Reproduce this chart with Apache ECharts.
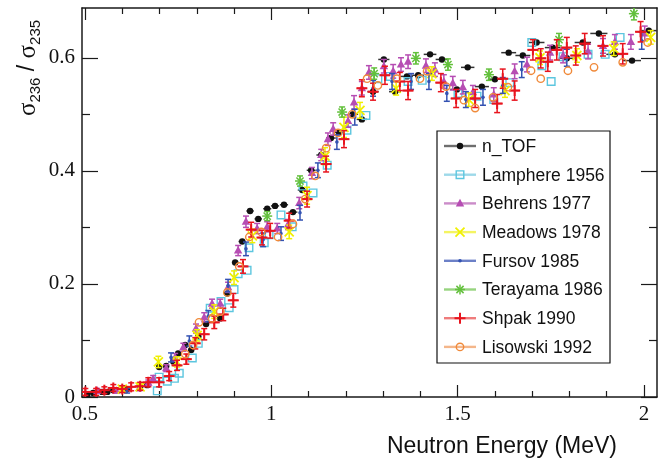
<!DOCTYPE html>
<html>
<head>
<meta charset="utf-8">
<script src="https://cdn.jsdelivr.net/npm/echarts@6/dist/echarts.min.js"></script>
<style>
  html, body { margin: 0; padding: 0; background: #fff; }
  #chart { width: 668px; height: 461px; }
</style>
</head>
<body>
<div id="chart"></div>
<script>
// ---- U-236 / U-235 fission cross-section ratio data ----
// n_TOF
const ntofE = [0.506,0.522,0.546,0.560,0.576,0.613,0.648,0.667,0.699,0.718,0.737,0.750,0.769,0.785,0.804,0.825,0.863,0.882,0.903,0.922,0.943,0.965,0.989,1.010,1.034,1.058,1.083,1.107,1.134,1.160,1.182,1.219,1.243,1.273,1.302,1.332,1.364,1.394,1.426,1.458,1.498,1.527,1.565,1.600,1.637,1.675,1.712,1.755,1.793,1.836,1.879,1.922,1.968,2.013];
const ntofR = [0.004,0.007,0.009,0.009,0.012,0.014,0.018,0.021,0.053,0.055,0.063,0.077,0.092,0.083,0.107,0.129,0.139,0.183,0.238,0.275,0.329,0.315,0.333,0.338,0.340,0.327,0.366,0.401,0.428,0.458,0.468,0.500,0.491,0.540,0.597,0.540,0.567,0.569,0.606,0.597,0.544,0.583,0.549,0.562,0.609,0.604,0.627,0.618,0.599,0.627,0.643,0.606,0.595,0.648];
const ntofDE = [0.004,0.004,0.005,0.005,0.005,0.006,0.006,0.006,0.007,0.007,0.007,0.007,0.008,0.008,0.008,0.008,0.009,0.009,0.009,0.010,0.010,0.010,0.011,0.011,0.011,0.012,0.012,0.012,0.013,0.013,0.013,0.014,0.014,0.015,0.015,0.016,0.016,0.016,0.017,0.017,0.018,0.018,0.019,0.019,0.020,0.020,0.021,0.021,0.022,0.022,0.023,0.023,0.024,0.024];
// Lamphere 1956
const lampE = [0.694,0.699,0.721,0.740,0.753,0.788,0.804,0.836,0.865,0.887,0.900,0.911,0.935,0.940,0.981,0.994,1.026,1.056,1.085,1.112,1.150,1.203,1.254,1.286,1.319,1.367,1.405,1.501,1.552,1.597,1.640,1.699,1.726,1.751,1.783,1.850,1.896,1.936];
const lampR = [0.011,0.035,0.028,0.033,0.042,0.069,0.095,0.157,0.169,0.158,0.190,0.218,0.224,0.264,0.273,0.287,0.322,0.301,0.373,0.361,0.410,0.472,0.498,0.563,0.567,0.558,0.560,0.537,0.532,0.526,0.556,0.627,0.586,0.558,0.602,0.606,0.606,0.636];
// Behrens 1977
const behE = [0.533,0.584,0.646,0.670,0.683,0.718,0.742,0.764,0.798,0.820,0.841,0.863,0.884,0.911,0.932,0.962,0.989,1.016,1.045,1.075,1.109,1.134,1.152,1.166,1.206,1.222,1.243,1.262,1.302,1.327,1.348,1.367,1.415,1.439,1.463,1.487,1.514,1.541,1.597,1.653,1.686,1.748,1.783,1.850,1.890,1.922,1.965,2.002];
const behR = [0.011,0.011,0.016,0.025,0.032,0.051,0.070,0.088,0.121,0.141,0.165,0.165,0.194,0.259,0.310,0.298,0.301,0.298,0.305,0.343,0.396,0.428,0.456,0.474,0.488,0.521,0.546,0.574,0.585,0.576,0.588,0.593,0.586,0.579,0.558,0.555,0.548,0.539,0.535,0.576,0.588,0.609,0.604,0.611,0.621,0.628,0.628,0.643];
const behDR = [0.004,0.004,0.005,0.005,0.006,0.006,0.007,0.007,0.008,0.008,0.008,0.008,0.009,0.009,0.010,0.009,0.009,0.009,0.009,0.010,0.010,0.010,0.011,0.011,0.011,0.012,0.012,0.012,0.012,0.012,0.012,0.012,0.012,0.012,0.012,0.012,0.012,0.012,0.012,0.013,0.013,0.013,0.013,0.013,0.013,0.013,0.013,0.013];
// Meadows 1978
const meadE = [0.600,0.648,0.697,0.747,0.801,0.847,0.900,0.949,1.048,1.096,1.144,1.195,1.238,1.335,1.431,1.530,1.627,1.721,1.820,1.919,2.018];
const meadR = [0.014,0.018,0.062,0.062,0.109,0.151,0.211,0.285,0.292,0.356,0.426,0.477,0.507,0.546,0.572,0.526,0.542,0.600,0.604,0.616,0.636];
const meadDR = [0.004,0.005,0.010,0.009,0.010,0.012,0.012,0.012,0.012,0.015,0.015,0.018,0.014,0.012,0.012,0.012,0.012,0.012,0.012,0.012,0.012];
// Fursov 1985
const furE = [0.613,0.731,0.780,0.831,0.884,0.932,0.978,1.026,1.077,1.125,1.176,1.224,1.273,1.324,1.375,1.423,1.471,1.522,1.568,1.621,1.672,1.793,1.994];
const furR = [0.011,0.070,0.099,0.143,0.197,0.262,0.278,0.289,0.326,0.401,0.451,0.495,0.546,0.558,0.558,0.558,0.537,0.526,0.530,0.551,0.579,0.600,0.630];
const furDR = [0.004,0.008,0.009,0.010,0.011,0.012,0.012,0.012,0.013,0.013,0.013,0.014,0.014,0.014,0.014,0.014,0.014,0.014,0.014,0.014,0.014,0.015,0.015];
// Terayama 1986
const terE = [0.989,1.077,1.190,1.276,1.388,1.474,1.584,1.772,1.973];
const terR = [0.320,0.382,0.504,0.572,0.599,0.588,0.570,0.632,0.678];
const terDR = [0.008,0.009,0.009,0.010,0.010,0.010,0.010,0.011,0.011];
// Shpak 1990
const shpE = [0.501,0.530,0.552,0.576,0.600,0.624,0.648,0.670,0.699,0.726,0.747,0.772,0.796,0.820,0.847,0.871,0.898,0.924,0.946,0.975,0.997,1.048,1.096,1.147,1.195,1.243,1.273,1.305,1.345,1.367,1.455,1.496,1.547,1.606,1.621,1.653,1.702,1.723,1.742,1.766,1.793,1.817,1.841,1.890,1.943,1.991];
const shpR = [0.009,0.009,0.012,0.016,0.014,0.018,0.019,0.026,0.026,0.037,0.056,0.067,0.095,0.111,0.132,0.146,0.171,0.231,0.296,0.282,0.294,0.312,0.350,0.412,0.456,0.546,0.540,0.569,0.558,0.542,0.556,0.528,0.528,0.519,0.563,0.542,0.614,0.599,0.593,0.614,0.618,0.604,0.625,0.621,0.607,0.646];
const shpDE = [0.008,0.008,0.008,0.008,0.009,0.009,0.009,0.009,0.010,0.010,0.010,0.010,0.011,0.011,0.011,0.011,0.012,0.012,0.012,0.012,0.012,0.012,0.012,0.013,0.013,0.013,0.013,0.013,0.013,0.013,0.014,0.014,0.014,0.014,0.014,0.014,0.014,0.014,0.014,0.014,0.014,0.014,0.014,0.014,0.014,0.014];
const shpDR = [0.006,0.006,0.006,0.006,0.006,0.007,0.007,0.008,0.008,0.008,0.009,0.009,0.010,0.010,0.011,0.011,0.012,0.012,0.013,0.013,0.013,0.013,0.014,0.014,0.015,0.015,0.015,0.016,0.016,0.016,0.016,0.016,0.016,0.016,0.017,0.017,0.018,0.017,0.017,0.018,0.018,0.017,0.018,0.018,0.018,0.018];
// Lisowski 1992
const lisE = [0.769,0.790,0.806,0.841,0.863,0.882,0.914,0.941,0.973,1.018,1.058,1.091,1.118,1.147,1.179,1.217,1.257,1.286,1.337,1.399,1.418,1.469,1.517,1.547,1.595,1.635,1.697,1.723,1.796,1.866,1.943,2.010];
const lisR = [0.076,0.092,0.132,0.139,0.151,0.185,0.231,0.283,0.292,0.283,0.306,0.350,0.391,0.440,0.467,0.500,0.563,0.551,0.563,0.563,0.576,0.549,0.525,0.511,0.530,0.548,0.577,0.563,0.577,0.583,0.592,0.627];

// Axis ranges and tick positions
const X_MIN = 0.492, X_MAX = 2.035;
const Y_MIN = 0, Y_MAX = 0.688;
const xMajor = [0.5, 1, 1.5, 2];
const xMinor = [0.6, 0.7, 0.8, 0.9, 1.1, 1.2, 1.3, 1.4, 1.6, 1.7, 1.8, 1.9];
const yMajor = [0, 0.2, 0.4, 0.6];
const yMinor = [0.1, 0.3, 0.5];

const SETS = [
  { name: 'n_TOF',         e: ntofE, r: ntofR, de: ntofDE, dr: null,   color: '#111111', legendLine: '#6e6e6e', mark: 'dot' },
  { name: 'Lamphere 1956', e: lampE, r: lampR, de: null,   dr: null,   color: '#5cc6df', legendLine: '#9dd9e9', mark: 'square' },
  { name: 'Behrens 1977',  e: behE,  r: behR,  de: null,   dr: behDR,  color: '#b64db3', legendLine: '#cb8cc9', mark: 'triangle' },
  { name: 'Meadows 1978',  e: meadE, r: meadR, de: null,   dr: meadDR, color: '#f0f000', legendLine: '#f4f462', mark: 'cross' },
  { name: 'Fursov 1985',   e: furE,  r: furR,  de: null,   dr: furDR,  color: '#3352b2', legendLine: '#6c80c7', mark: 'small' },
  { name: 'Terayama 1986', e: terE,  r: terR,  de: null,   dr: terDR,  color: '#63c03c', legendLine: '#97d47f', mark: 'star' },
  { name: 'Shpak 1990',    e: shpE,  r: shpR,  de: shpDE,  dr: shpDR,  color: '#e8141e', legendLine: '#ef7c7c', mark: 'plus' },
  { name: 'Lisowski 1992', e: lisE,  r: lisR,  de: null,   dr: null,   color: '#f08a3a', legendLine: '#f4b68a', mark: 'ring' }
];

// Marker glyphs, shared by the plot and the legend
function markerShapes(kind, cx, cy, color) {
  const ln = (x1, y1, x2, y2, w) => ({ type: 'line', shape: { x1, y1, x2, y2 }, style: { stroke: color, lineWidth: w } });
  switch (kind) {
    case 'dot':
      return [{ type: 'circle', shape: { cx, cy, r: 3.2 }, style: { fill: color } }];
    case 'square':
      return [{ type: 'rect', shape: { x: cx - 3.8, y: cy - 3.8, width: 7.6, height: 7.6 }, style: { fill: 'none', stroke: color, lineWidth: 1.4 } }];
    case 'triangle':
      return [{ type: 'polygon', shape: { points: [[cx, cy - 4.6], [cx + 4.2, cy + 3], [cx - 4.2, cy + 3]] }, style: { fill: color } }];
    case 'cross':
      return [ln(cx - 4.5, cy - 4.5, cx + 4.5, cy + 4.5, 1.8), ln(cx - 4.5, cy + 4.5, cx + 4.5, cy - 4.5, 1.8)];
    case 'small':
      return [{ type: 'circle', shape: { cx, cy, r: 1.8 }, style: { fill: color } }];
    case 'star':
      return [ln(cx - 5, cy, cx + 5, cy, 1.5), ln(cx, cy - 5, cx, cy + 5, 1.5),
              ln(cx - 3.6, cy - 3.6, cx + 3.6, cy + 3.6, 1.5), ln(cx - 3.6, cy + 3.6, cx + 3.6, cy - 3.6, 1.5)];
    case 'plus':
      return [ln(cx - 5.5, cy, cx + 5.5, cy, 2), ln(cx, cy - 5.5, cx, cy + 5.5, 2)];
    case 'ring':
      return [{ type: 'circle', shape: { cx, cy, r: 3.7 }, style: { fill: 'none', stroke: color, lineWidth: 1.4 } }];
  }
  return [];
}

function makeRenderItem(set) {
  return function (params, api) {
    const x = api.value(0), y = api.value(1), dx = api.value(2), dy = api.value(3);
    const p = api.coord([x, y]);
    const kids = [];
    const barColor = set.mark === 'dot' ? '#333333' : set.color;
    if (dy > 0) {
      const t = api.coord([x, y + dy]), b = api.coord([x, y - dy]);
      kids.push({ type: 'line', shape: { x1: p[0], y1: t[1], x2: p[0], y2: b[1] }, style: { stroke: barColor, lineWidth: 1.5 } });
      kids.push({ type: 'line', shape: { x1: p[0] - 3, y1: t[1], x2: p[0] + 3, y2: t[1] }, style: { stroke: barColor, lineWidth: 1.5 } });
      kids.push({ type: 'line', shape: { x1: p[0] - 3, y1: b[1], x2: p[0] + 3, y2: b[1] }, style: { stroke: barColor, lineWidth: 1.5 } });
    }
    if (dx > 0) {
      const l = api.coord([x - dx, y]), r = api.coord([x + dx, y]);
      kids.push({ type: 'line', shape: { x1: l[0], y1: p[1], x2: r[0], y2: p[1] }, style: { stroke: barColor, lineWidth: 1.5 } });
    }
    markerShapes(set.mark, p[0], p[1], set.color).forEach(s => kids.push(s));
    return { type: 'group', children: kids };
  };
}

const series = SETS.map(set => ({
  type: 'custom',
  name: set.name,
  xAxisIndex: 0,
  yAxisIndex: 0,
  clip: true,
  silent: true,
  animation: false,
  encode: { x: 0, y: 1 },
  data: set.e.map((v, i) => [v, set.r[i], set.de ? set.de[i] : 0, set.dr ? set.dr[i] : 0]),
  renderItem: makeRenderItem(set)
}));

const frameLine = { show: true, onZero: false, lineStyle: { color: '#1a1a1a', width: 1.5 } };
const noLine = { show: false, onZero: false };
const tickStyle = { color: '#1a1a1a', width: 1.2 };
const serifLabel = { color: '#111', fontFamily: 'Liberation Serif', fontSize: 21 };

function xAx(pos, major, withLine, withLabel) {
  return {
    type: 'value', position: pos, min: X_MIN, max: X_MAX,
    axisLine: withLine ? frameLine : noLine,
    axisTick: { show: true, inside: true, length: major ? 12 : 6, customValues: major ? xMajor : xMinor, lineStyle: tickStyle },
    axisLabel: withLabel
      ? Object.assign({ show: true, margin: 7, customValues: xMajor, formatter: v => String(v) }, serifLabel)
      : { show: false },
    splitLine: { show: false }
  };
}
function yAx(pos, major, withLine, withLabel) {
  return {
    type: 'value', position: pos, min: Y_MIN, max: Y_MAX,
    axisLine: withLine ? frameLine : noLine,
    axisTick: { show: true, inside: true, length: major ? 16 : 8, customValues: major ? yMajor : yMinor, lineStyle: tickStyle },
    axisLabel: withLabel
      ? Object.assign({ show: true, margin: 7, customValues: yMajor, formatter: v => String(v) }, serifLabel)
      : { show: false },
    splitLine: { show: false }
  };
}

// Legend drawn as graphic elements: box, line sample, marker, name
const legendItems = [];
legendItems.push({ type: 'rect', shape: { x: 437, y: 131, width: 173, height: 232 }, style: { fill: '#fff', stroke: '#111', lineWidth: 1.2 }, z: 10 });
SETS.forEach((set, i) => {
  const cy = 146 + i * 28.7;
  legendItems.push({ type: 'line', shape: { x1: 444, y1: cy, x2: 476, y2: cy }, style: { stroke: set.legendLine, lineWidth: 2.4 }, z: 11 });
  markerShapes(set.mark, 460, cy, set.color).forEach(s => { s.z = 12; legendItems.push(s); });
  legendItems.push({
    type: 'text', z: 12,
    style: { text: set.name, x: 482, y: cy + 1, textAlign: 'left', textVerticalAlign: 'middle', fill: '#111', font: '17.5px "Liberation Sans"' }
  });
});

const titles = [
  {
    type: 'text', z: 5,
    style: { text: 'Neutron Energy (MeV)', x: 617, y: 447, textAlign: 'right', textVerticalAlign: 'middle', fill: '#111', font: '23px "Liberation Sans"' }
  },
  {
    type: 'text', z: 5, x: 28, y: 68, rotation: Math.PI / 2,
    style: {
      text: '{g|σ}{n|236}{s| / }{g|σ}{n|235}',
      textAlign: 'center', textVerticalAlign: 'middle',
      rich: {
        g: { fontFamily: 'Liberation Serif', fontSize: 25, fill: '#111', color: '#111', lineHeight: 30, verticalAlign: 'middle' },
        s: { fontFamily: 'Liberation Sans', fontSize: 23, fill: '#111', color: '#111', lineHeight: 30, verticalAlign: 'middle' },
        n: { fontFamily: 'Liberation Sans', fontSize: 15, fill: '#111', color: '#111', lineHeight: 30, verticalAlign: 'bottom' }
      }
    }
  }
];

const chart = echarts.init(document.getElementById('chart'), null, { renderer: 'canvas' });
chart.setOption({
  backgroundColor: '#fff',
  animation: false,
  grid: { left: 82, right: 11, top: 8, bottom: 64, containLabel: false, outerBoundsMode: 'none' },
  xAxis: [xAx('bottom', true, true, true), xAx('bottom', false, false, false), xAx('top', true, true, false), xAx('top', false, false, false)],
  yAxis: [yAx('left', true, true, true), yAx('left', false, false, false), yAx('right', true, true, false), yAx('right', false, false, false)],
  series: series,
  graphic: { elements: titles.concat(legendItems) }
});
</script>
</body>
</html>
